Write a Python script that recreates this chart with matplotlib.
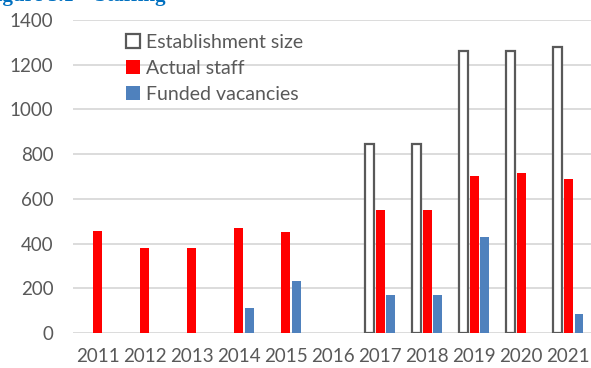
import numpy as np
import matplotlib.pyplot as plt

years = ['2011', '2012', '2013', '2014', '2015', '2016', '2017', '2018', '2019', '2020', '2021']
establishment = [0, 0, 0, 0, 0, 0, 846, 846, 1263, 1263, 1277]
actual_staff = [455, 378, 378, 468, 450, 0, 550, 550, 703, 715, 688]
funded_vacancies = [0, 0, 0, 113, 232, 0, 170, 170, 429, 0, 84]

plt.rcParams['font.family'] = ['Lato', 'DejaVu Sans']

fig = plt.figure(figsize=(5.91, 3.68), dpi=100)
ax = fig.add_axes([73 / 591, 1 - 333 / 368, 1 - 73 / 591, 313 / 368])

x = np.arange(len(years))
w = 0.19
off = 0.225

est = [v if v > 0 else np.nan for v in establishment]
act = [v if v > 0 else np.nan for v in actual_staff]
fun = [v if v > 0 else np.nan for v in funded_vacancies]

ax.bar(x - off, est, w, facecolor='white', edgecolor='#595959', linewidth=1.6,
       label='Establishment size', zorder=3)
ax.bar(x, act, w, color='#FF0000', label='Actual staff', zorder=3)
ax.bar(x + off, fun, w, color='#4F81BD', label='Funded vacancies', zorder=3)

ax.set_xlim(-0.52, 10.48)
ax.set_ylim(0, 1400)
ax.set_yticks(range(0, 1401, 200))
ax.set_xticks(x)
ax.set_xticklabels(years)
ax.grid(axis='y', color='#D9D9D9', linewidth=1.3, zorder=0)
for s in ax.spines.values():
    s.set_visible(False)
ax.tick_params(axis='both', length=0, labelsize=13.5, colors='#595959')
ax.tick_params(axis='x', pad=11)
ax.tick_params(axis='y', pad=14)

ax.legend(loc='upper left', bbox_to_anchor=(0.088, 0.98), frameon=False, fontsize=14,
          handlelength=0.7, handleheight=0.7, handletextpad=0.3, labelspacing=0.45,
          labelcolor='#595959', borderaxespad=0)

fig.text(-0.027, 1 - 1 / 368, 'Figure 5.1 \u2013 Staffing', fontsize=15, fontweight='bold',
         family='Liberation Serif', color='#0070C0', va='baseline')

fig.savefig('out.png', dpi=100)
